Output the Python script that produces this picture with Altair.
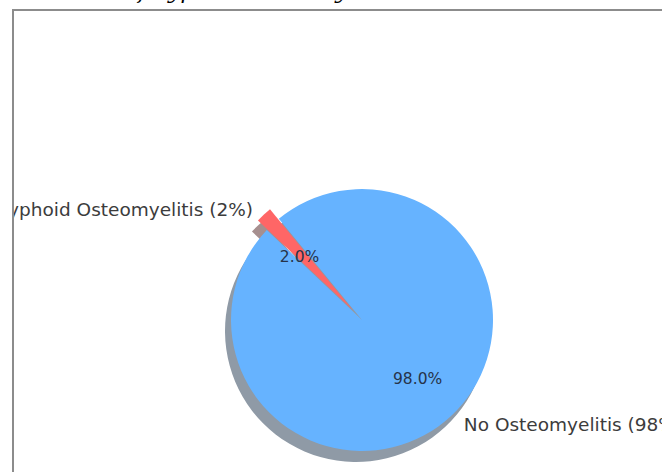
import math
import altair as alt
import pandas as pd

# ---- data ----
categories = ["Typhoid Osteomyelitis", "No Osteomyelitis"]
values = [2, 98]
labels = ["Typhoid Osteomyelitis (2%)", "No Osteomyelitis (98%)"]
order = [0, 1]
slice_colors = ["#ff6666", "#66b3ff"]
shadow_colors = ["#a68f8f", "#8f9aa6"]
title_text = "Prevalence of Typhoid Osteomyelitis"

total = sum(values)
df = pd.DataFrame({"category": categories, "value": values, "label": labels, "order": order})

W, H = 662, 472
CX, CY = 362, 320          # pie centre
R = 131                    # pie radius
EXP = 13                   # explode distance of the small slice
START = math.radians(313.4)

mid_red = START + 2 * math.pi * (values[0] / 2) / total
ex_dx = EXP * math.sin(mid_red)
ex_dy = -EXP * math.cos(mid_red)
SH_DX, SH_DY = -6, 11

theta_scale = alt.Scale(domain=[0, total], range=[START, START + 2 * math.pi])

base = (
    alt.Chart(df)
    .transform_joinaggregate(total="sum(value)")
    .transform_window(cum="sum(value)", sort=[alt.SortField("order")], frame=[None, 0])
    .transform_calculate(
        start="datum.cum - datum.value",
        mid="datum.cum - datum.value / 2",
        pct="format(datum.value / datum.total, '.1%')",
    )
)

def arc_layer(cat, color, cx, cy):
    return (
        base.transform_filter(alt.datum.category == cat)
        .mark_arc(color=color)
        .encode(
            theta=alt.Theta("start:Q", scale=theta_scale),
            theta2="cum:Q",
            radius=alt.value(R),
            x=alt.value(cx),
            y=alt.value(cy),
        )
    )

red_cx, red_cy = CX + ex_dx, CY + ex_dy

sh_red = arc_layer(categories[0], shadow_colors[0], red_cx + SH_DX, red_cy + SH_DY)
sh_blue = arc_layer(categories[1], shadow_colors[1], CX + SH_DX, CY + SH_DY)
red = arc_layer(categories[0], slice_colors[0], red_cx, red_cy)
blue = arc_layer(categories[1], slice_colors[1], CX, CY)

def text_layer(cat, field, radius, cx, cy, align, size, color, dx=0, dy=0):
    return (
        base.transform_filter(alt.datum.category == cat)
        .mark_text(align=align, baseline="middle", font="DejaVu Sans", fontSize=size,
                   color=color, dx=dx, dy=dy)
        .encode(
            theta=alt.Theta("mid:Q", scale=theta_scale),
            radius=alt.value(radius),
            x=alt.value(cx),
            y=alt.value(cy),
            text=f"{field}:N",
        )
    )

lab_red = text_layer(categories[0], "label", 1.12 * R, red_cx, red_cy, "right", 18.5, "#3c3c3c", dy=7)
lab_blue = text_layer(categories[1], "label", 1.14 * R, CX, CY, "left", 18.5, "#3c3c3c", dy=-4)
pct_red = text_layer(categories[0], "pct", 0.6 * R, red_cx, red_cy, "center", 15.5, "#26334a", dy=4)
pct_blue = text_layer(categories[1], "pct", 0.6 * R, CX, CY, "center", 15.5, "#26334a", dx=2, dy=2)

mask = alt.Chart(df).mark_rect(color="white").encode(
    x=alt.value(0), x2=alt.value(12), y=alt.value(0), y2=alt.value(H)
)
frame_left = alt.Chart(df).mark_rule(color="#8c8c8c", strokeWidth=2).encode(
    x=alt.value(13), y=alt.value(9), y2=alt.value(H)
)
frame_top = alt.Chart(df).mark_rule(color="#8c8c8c", strokeWidth=2).encode(
    x=alt.value(12), x2=alt.value(W), y=alt.value(10)
)
title = alt.Chart(pd.DataFrame({"t": [title_text]})).mark_text(
    align="right", baseline="alphabetic", font="DejaVu Serif", fontStyle="italic",
    fontSize=22, color="black"
).encode(x=alt.value(402), y=alt.value(-2), text="t:N")

chart = (
    alt.layer(sh_red, sh_blue, red, blue, lab_red, lab_blue, pct_red, pct_blue,
              mask, frame_left, frame_top, title)
    .properties(width=W, height=H, autosize=alt.AutoSizeParams(type="none"), padding=0)
    .configure_view(strokeWidth=0)
)

chart.save("out.html", embed_options={"renderer": "svg", "actions": False})
